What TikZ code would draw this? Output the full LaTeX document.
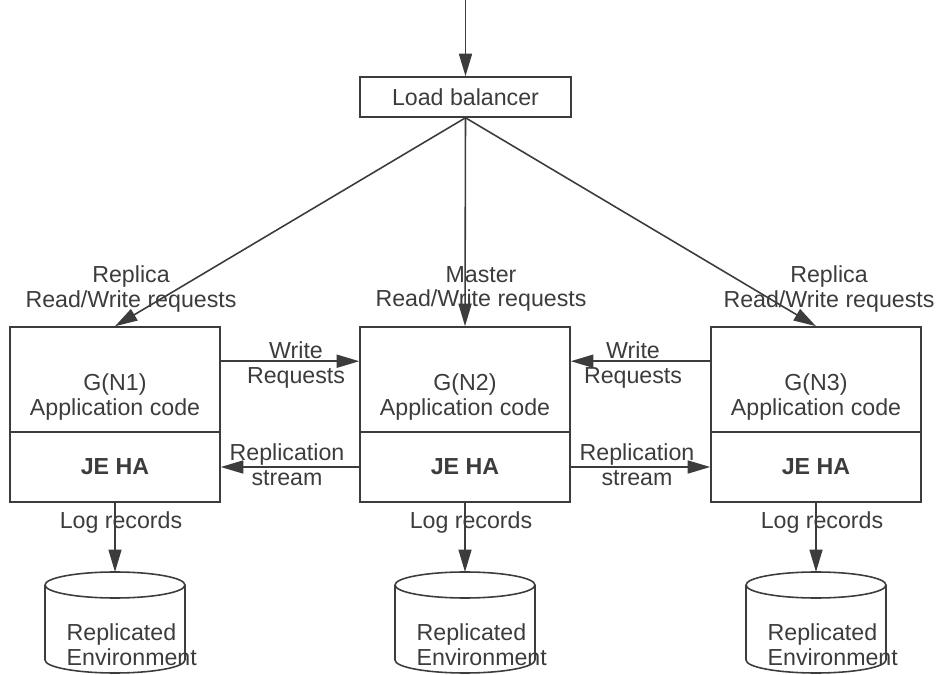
\documentclass[tikz,border=0pt]{standalone}
\usepackage{fontspec}
\setmainfont{Liberation Sans}
\usetikzlibrary{arrows.meta}
\definecolor{inkgray}{HTML}{3C3C3C}

\begin{document}
\begin{tikzpicture}[x=0.02cm, y=-0.02cm, line width=0.9pt, color=inkgray,
    every node/.style={font=\fontsize{13.2pt}{14pt}\selectfont, align=center, text=inkgray},
    box/.style={draw, rectangle, minimum width=4.2cm, inner sep=0pt},
    arr/.style={-{Triangle[length=0.45cm,width=0.26cm]}}]
    \useasboundingbox (0,0) rectangle (937,675);
    \coordinate (entry) at (465.5,0);
    \node[box, minimum width=4.22cm, minimum height=0.8cm] (lb) at (465.5,97) {Load balancer};
    \draw[arr] (entry) -- (lb.north);

    \foreach \n/\x in {1/115, 2/465, 3/816} {
      \node[box, minimum height=2.1cm] (app\n) at (\x,379.5) {};
      \node (code\n) at (\x,397) {G(N\n)\\Application code};
      \node[box, minimum height=1.4cm, font=\fontsize{13.2pt}{14pt}\selectfont\bfseries] (ha\n) at (\x,467) {JE HA};
      \draw[arr] (lb.south) -- (app\n.north);
      % database
      \draw (\x,585) ellipse (1.4cm and 0.26cm);
      \draw (\x-70,585) -- (\x-70,660) arc[start angle=180, end angle=360, x radius=1.4cm, y radius=0.26cm] -- (\x+70,585);
      \coordinate (db\n) at (\x,572);
      \node[anchor=west, align=left] (env\n) at (\x-55,645) {Replicated\\Environment};
      \draw[arr] (ha\n.south) -- (db\n);
      \node (log\n) at (\x+6,523) {Log records};
    }

    \node (req1) at (131,289) {Replica\\Read/Write requests};
    \node (req2) at (481,289) {Master\\Read/Write requests};
    \node (req3) at (829,289) {Replica\\Read/Write requests};

    \draw[arr] ([yshift=-0.7cm]app1.north east) -- ([yshift=-0.7cm]app2.north west);
    \draw[arr] ([yshift=-0.7cm]app3.north west) -- ([yshift=-0.7cm]app2.north east);
    \node (wr1) at (296,365) {Write\\Requests};
    \node (wr3) at (633,365) {Write\\Requests};

    \draw[arr] (ha2.west) -- (ha1.east);
    \draw[arr] (ha2.east) -- (ha3.west);
    \node (rs1) at (287,465) {Replication\\stream};
    \node (rs3) at (637,465) {Replication\\stream};
\end{tikzpicture}
\end{document}
